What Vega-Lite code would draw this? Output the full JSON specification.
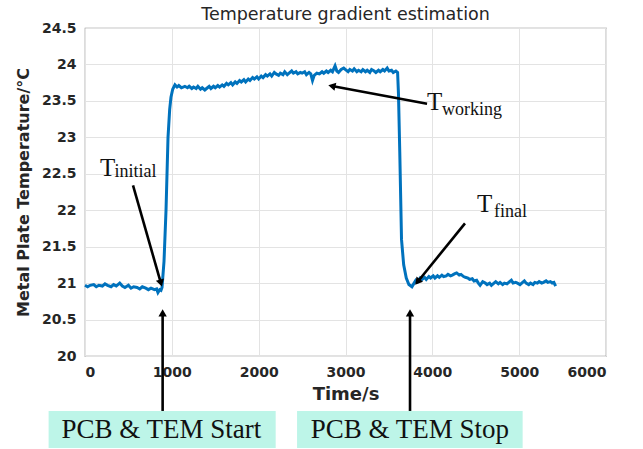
{
  "$schema": "https://vega.github.io/schema/vega-lite/v6.json",
  "autosize": {"type": "none"},
  "width": 521,
  "height": 328,
  "padding": {"left": 85, "top": 28, "right": 37, "bottom": 93},
  "background": "white",
  "title": {"text": "Temperature gradient estimation", "font": "DejaVu Sans", "fontSize": 17.5, "fontWeight": "normal", "color": "#262626", "offset": -2},
  "config": {
    "view": {"stroke": "#8c8c8c", "strokeWidth": 1.2},
    "axis": {"labelFont": "DejaVu Sans", "labelFontWeight": "bold", "labelFontSize": 14, "labelColor": "#262626", "titleFont": "DejaVu Sans", "titleFontWeight": "bold", "titleColor": "#262626", "gridColor": "#e3e3e3", "gridWidth": 1, "domain": false, "ticks": false, "labelOverlap": false}
  },
  "datasets": {
    "curve": [
      {"t": 0, "temp": 20.97}, {"t": 30, "temp": 20.95}, {"t": 60, "temp": 20.97}, {"t": 100, "temp": 20.98}, {"t": 130, "temp": 20.95}, {"t": 160, "temp": 20.97}, {"t": 200, "temp": 20.96}, {"t": 230, "temp": 20.99}, {"t": 260, "temp": 20.97}, {"t": 300, "temp": 20.95}, {"t": 330, "temp": 20.98}, {"t": 360, "temp": 20.96}, {"t": 400, "temp": 21.0}, {"t": 430, "temp": 20.96}, {"t": 460, "temp": 20.94}, {"t": 500, "temp": 20.97}, {"t": 530, "temp": 20.93}, {"t": 560, "temp": 20.95}, {"t": 600, "temp": 20.94}, {"t": 630, "temp": 20.92}, {"t": 660, "temp": 20.95}, {"t": 700, "temp": 20.93}, {"t": 730, "temp": 20.91}, {"t": 760, "temp": 20.93}, {"t": 800, "temp": 20.91}, {"t": 825, "temp": 20.92}, {"t": 840, "temp": 20.87}, {"t": 860, "temp": 20.91}, {"t": 875, "temp": 20.9}, {"t": 887, "temp": 20.94},
      {"t": 910, "temp": 21.3}, {"t": 933, "temp": 22.0}, {"t": 956, "temp": 23.0}, {"t": 975, "temp": 23.38}, {"t": 990, "temp": 23.55}, {"t": 1010, "temp": 23.66}, {"t": 1036, "temp": 23.72},
      {"t": 1060, "temp": 23.69}, {"t": 1080, "temp": 23.71}, {"t": 1110, "temp": 23.68}, {"t": 1150, "temp": 23.7}, {"t": 1180, "temp": 23.68}, {"t": 1200, "temp": 23.7}, {"t": 1230, "temp": 23.67}, {"t": 1250, "temp": 23.69}, {"t": 1280, "temp": 23.67}, {"t": 1300, "temp": 23.7}, {"t": 1330, "temp": 23.66}, {"t": 1350, "temp": 23.68}, {"t": 1380, "temp": 23.65}, {"t": 1400, "temp": 23.67}, {"t": 1430, "temp": 23.7}, {"t": 1450, "temp": 23.67}, {"t": 1480, "temp": 23.7}, {"t": 1500, "temp": 23.68}, {"t": 1530, "temp": 23.71}, {"t": 1550, "temp": 23.69}, {"t": 1580, "temp": 23.72}, {"t": 1600, "temp": 23.7}, {"t": 1630, "temp": 23.74}, {"t": 1650, "temp": 23.72}, {"t": 1680, "temp": 23.75}, {"t": 1700, "temp": 23.72}, {"t": 1730, "temp": 23.76}, {"t": 1750, "temp": 23.74}, {"t": 1780, "temp": 23.78}, {"t": 1800, "temp": 23.76}, {"t": 1830, "temp": 23.79}, {"t": 1850, "temp": 23.76}, {"t": 1880, "temp": 23.8}, {"t": 1900, "temp": 23.78}, {"t": 1930, "temp": 23.82}, {"t": 1950, "temp": 23.8}, {"t": 1980, "temp": 23.83}, {"t": 2000, "temp": 23.8}, {"t": 2030, "temp": 23.84}, {"t": 2050, "temp": 23.82}, {"t": 2080, "temp": 23.86}, {"t": 2100, "temp": 23.84}, {"t": 2130, "temp": 23.87}, {"t": 2150, "temp": 23.84}, {"t": 2180, "temp": 23.89}, {"t": 2200, "temp": 23.87}, {"t": 2230, "temp": 23.85}, {"t": 2250, "temp": 23.88}, {"t": 2280, "temp": 23.86}, {"t": 2300, "temp": 23.9}, {"t": 2330, "temp": 23.86}, {"t": 2350, "temp": 23.88}, {"t": 2380, "temp": 23.91}, {"t": 2400, "temp": 23.88}, {"t": 2430, "temp": 23.9}, {"t": 2450, "temp": 23.87}, {"t": 2480, "temp": 23.89}, {"t": 2500, "temp": 23.88}, {"t": 2530, "temp": 23.9}, {"t": 2550, "temp": 23.86}, {"t": 2580, "temp": 23.89}, {"t": 2600, "temp": 23.87}, {"t": 2620, "temp": 23.78}, {"t": 2640, "temp": 23.85}, {"t": 2670, "temp": 23.88}, {"t": 2700, "temp": 23.87}, {"t": 2730, "temp": 23.9}, {"t": 2750, "temp": 23.88}, {"t": 2780, "temp": 23.91}, {"t": 2800, "temp": 23.89}, {"t": 2830, "temp": 23.92}, {"t": 2850, "temp": 23.9}, {"t": 2880, "temp": 23.98}, {"t": 2900, "temp": 23.91}, {"t": 2920, "temp": 23.89}, {"t": 2950, "temp": 23.93}, {"t": 2980, "temp": 23.95}, {"t": 3000, "temp": 23.93}, {"t": 3030, "temp": 23.9}, {"t": 3050, "temp": 23.93}, {"t": 3080, "temp": 23.91}, {"t": 3100, "temp": 23.94}, {"t": 3130, "temp": 23.9}, {"t": 3150, "temp": 23.92}, {"t": 3180, "temp": 23.9}, {"t": 3200, "temp": 23.93}, {"t": 3230, "temp": 23.9}, {"t": 3250, "temp": 23.92}, {"t": 3280, "temp": 23.89}, {"t": 3300, "temp": 23.93}, {"t": 3330, "temp": 23.91}, {"t": 3350, "temp": 23.89}, {"t": 3380, "temp": 23.92}, {"t": 3400, "temp": 23.9}, {"t": 3430, "temp": 23.93}, {"t": 3450, "temp": 23.91}, {"t": 3480, "temp": 23.95}, {"t": 3500, "temp": 23.91}, {"t": 3530, "temp": 23.92}, {"t": 3550, "temp": 23.89}, {"t": 3580, "temp": 23.91}, {"t": 3600, "temp": 23.89},
      {"t": 3610, "temp": 23.6}, {"t": 3625, "temp": 22.8}, {"t": 3645, "temp": 21.6}, {"t": 3670, "temp": 21.25}, {"t": 3700, "temp": 21.07}, {"t": 3730, "temp": 20.98}, {"t": 3765, "temp": 20.95},
      {"t": 3790, "temp": 21.0}, {"t": 3810, "temp": 21.04}, {"t": 3830, "temp": 21.02}, {"t": 3860, "temp": 21.07}, {"t": 3880, "temp": 21.05}, {"t": 3910, "temp": 21.08}, {"t": 3930, "temp": 21.05}, {"t": 3960, "temp": 21.09}, {"t": 3980, "temp": 21.07}, {"t": 4010, "temp": 21.1}, {"t": 4030, "temp": 21.07}, {"t": 4060, "temp": 21.1}, {"t": 4080, "temp": 21.08}, {"t": 4110, "temp": 21.11}, {"t": 4130, "temp": 21.09}, {"t": 4160, "temp": 21.1}, {"t": 4180, "temp": 21.12}, {"t": 4210, "temp": 21.1}, {"t": 4230, "temp": 21.11}, {"t": 4260, "temp": 21.13}, {"t": 4280, "temp": 21.14}, {"t": 4310, "temp": 21.11}, {"t": 4330, "temp": 21.12}, {"t": 4360, "temp": 21.09}, {"t": 4380, "temp": 21.08}, {"t": 4410, "temp": 21.07}, {"t": 4430, "temp": 21.05}, {"t": 4460, "temp": 21.06}, {"t": 4480, "temp": 21.03}, {"t": 4510, "temp": 21.04}, {"t": 4530, "temp": 21.0}, {"t": 4550, "temp": 20.97}, {"t": 4580, "temp": 21.02}, {"t": 4610, "temp": 21.0}, {"t": 4630, "temp": 20.98}, {"t": 4660, "temp": 21.0}, {"t": 4680, "temp": 20.97}, {"t": 4710, "temp": 21.0}, {"t": 4730, "temp": 21.02}, {"t": 4760, "temp": 20.99}, {"t": 4780, "temp": 21.01}, {"t": 4810, "temp": 20.98}, {"t": 4830, "temp": 21.0}, {"t": 4860, "temp": 20.99}, {"t": 4880, "temp": 21.01}, {"t": 4910, "temp": 21.04}, {"t": 4930, "temp": 21.0}, {"t": 4960, "temp": 21.01}, {"t": 4980, "temp": 21.0}, {"t": 5010, "temp": 20.98}, {"t": 5030, "temp": 21.0}, {"t": 5060, "temp": 21.03}, {"t": 5080, "temp": 21.0}, {"t": 5110, "temp": 20.98}, {"t": 5130, "temp": 21.0}, {"t": 5160, "temp": 20.98}, {"t": 5180, "temp": 21.01}, {"t": 5210, "temp": 21.0}, {"t": 5230, "temp": 21.02}, {"t": 5260, "temp": 21.0}, {"t": 5280, "temp": 21.01}, {"t": 5310, "temp": 21.03}, {"t": 5330, "temp": 21.01}, {"t": 5360, "temp": 21.02}, {"t": 5380, "temp": 21.0}, {"t": 5400, "temp": 21.01}, {"t": 5420, "temp": 20.96}
    ],
    "arrows": [
      {"t1": 553, "v1": 22.34, "t2": 874, "v2": 21.0},
      {"t1": 3939, "v1": 23.46, "t2": 2843, "v2": 23.705},
      {"t1": 4376, "v1": 21.82, "t2": 3829, "v2": 21.016},
      {"t1": 894, "v1": 19.246, "t2": 894, "v2": 20.59},
      {"t1": 3743, "v1": 19.246, "t2": 3743, "v2": 20.59}
    ],
    "heads": [
      {"t": 874, "v": 21.0, "angle": 164},
      {"t": 2843, "v": 23.705, "angle": 283},
      {"t": 3829, "v": 21.016, "angle": 219},
      {"t": 894, "v": 20.59, "angle": 0},
      {"t": 3743, "v": 20.59, "angle": 0}
    ],
    "bigT": [
      {"t": 173, "v": 22.47, "label": "T"},
      {"t": 3939, "v": 23.374, "label": "T"},
      {"t": 4515, "v": 21.975, "label": "T"}
    ],
    "subs": [
      {"t": 340, "v": 22.455, "label": "initial"},
      {"t": 4111, "v": 23.306, "label": "working"},
      {"t": 4710, "v": 21.907, "label": "final"}
    ],
    "boxes": [
      {"t1": -419, "t2": 2196, "v1": 19.246, "v2": 18.738, "tc": 880, "vt": 18.875, "label": "PCB & TEM Start"},
      {"t1": 2442, "t2": 5040, "v1": 19.246, "v2": 18.738, "tc": 3741, "vt": 18.875, "label": "PCB & TEM Stop"}
    ]
  },
  "layer": [
    {
      "data": {"name": "curve"},
      "mark": {"type": "line", "color": "#0072BD", "strokeWidth": 3},
      "encoding": {
        "x": {"field": "t", "type": "quantitative", "scale": {"domain": [0, 6000], "nice": false}, "axis": {"title": "Time/s", "titleFontSize": 18, "tickCount": 6, "format": "d", "labelPadding": 9, "titlePadding": 6}},
        "y": {"field": "temp", "type": "quantitative", "scale": {"domain": [20, 24.5], "nice": false, "zero": false}, "axis": {"title": "Metal Plate Temperature/°C", "titleFontSize": 16, "tickCount": 10, "labelExpr": "format(datum.value, '~f')", "labelPadding": 9, "titlePadding": 10}}
      }
    },
    {
      "data": {"name": "boxes"},
      "mark": {"type": "rect", "color": "#bdf5e8"},
      "encoding": {
        "x": {"field": "t1", "type": "quantitative"},
        "x2": {"field": "t2"},
        "y": {"field": "v1", "type": "quantitative"},
        "y2": {"field": "v2"}
      }
    },
    {
      "data": {"name": "boxes"},
      "mark": {"type": "text", "font": "Liberation Serif", "fontSize": 27, "color": "#111111", "align": "center", "baseline": "alphabetic"},
      "encoding": {
        "x": {"field": "tc", "type": "quantitative"},
        "y": {"field": "vt", "type": "quantitative"},
        "text": {"field": "label"}
      }
    },
    {
      "data": {"name": "arrows"},
      "mark": {"type": "rule", "color": "black", "strokeWidth": 2.6},
      "encoding": {
        "x": {"field": "t1", "type": "quantitative"},
        "y": {"field": "v1", "type": "quantitative"},
        "x2": {"field": "t2"},
        "y2": {"field": "v2"}
      }
    },
    {
      "data": {"name": "heads"},
      "mark": {"type": "point", "shape": "triangle-up", "filled": true, "color": "black", "size": 70, "opacity": 1},
      "encoding": {
        "x": {"field": "t", "type": "quantitative"},
        "y": {"field": "v", "type": "quantitative"},
        "angle": {"field": "angle", "type": "quantitative", "scale": null}
      }
    },
    {
      "data": {"name": "bigT"},
      "mark": {"type": "text", "font": "Liberation Serif", "fontSize": 25, "color": "#111111", "align": "left", "baseline": "alphabetic"},
      "encoding": {
        "x": {"field": "t", "type": "quantitative"},
        "y": {"field": "v", "type": "quantitative"},
        "text": {"field": "label"}
      }
    },
    {
      "data": {"name": "subs"},
      "mark": {"type": "text", "font": "Liberation Serif", "fontSize": 18, "color": "#111111", "align": "left", "baseline": "alphabetic"},
      "encoding": {
        "x": {"field": "t", "type": "quantitative"},
        "y": {"field": "v", "type": "quantitative"},
        "text": {"field": "label"}
      }
    }
  ]
}
